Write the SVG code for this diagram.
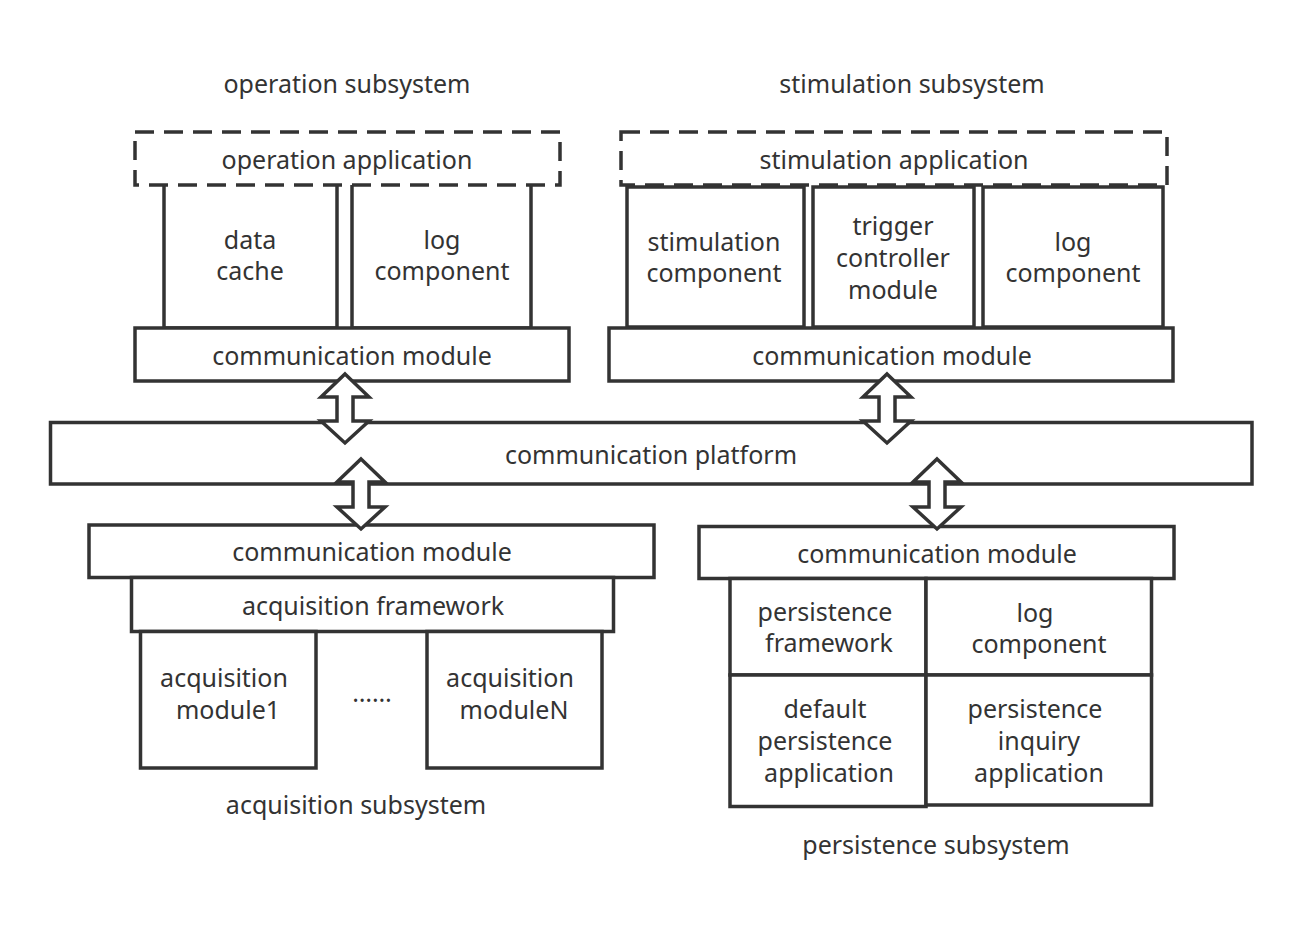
<svg xmlns="http://www.w3.org/2000/svg" width="1302" height="925" viewBox="0 0 1302 925">
<style>
.box{fill:#fff;stroke:#333;stroke-width:3.5}
.open{fill:none;stroke:#333;stroke-width:3.5}
.dash{fill:none;stroke:#333;stroke-width:3.5;stroke-dasharray:19 10}
.arr{fill:#fff;stroke:#333;stroke-width:3.5;stroke-linejoin:miter}
text{font-family:"Noto Sans","DejaVu Sans",sans-serif;font-size:25px;fill:#333;text-anchor:middle;dominant-baseline:central}
</style>
<rect x="0" y="0" width="1302" height="925" fill="#fff"/>

<g id="label-operation-subsystem"><text x="347" y="83">operation subsystem</text></g>
<g id="label-stimulation-subsystem"><text x="912" y="83">stimulation subsystem</text></g>

<g id="data-cache"><path class="open" d="M164,185 V328 H337 V185"/><text x="250" y="239">data</text><text x="250" y="270">cache</text></g>
<g id="op-log-component"><path class="open" d="M352,185 V328 H531 V185"/><text x="442" y="239">log</text><text x="442" y="270">component</text></g>
<g id="operation-application"><rect class="dash" x="135" y="132" width="425" height="53"/><text x="347" y="159">operation application</text></g>
<g id="op-comm-module"><rect class="box" x="135" y="328" width="434" height="53"/><text x="352" y="355">communication module</text></g>

<g id="stimulation-component"><rect class="box" x="627" y="187" width="177" height="140"/><text x="714" y="241">stimulation</text><text x="714" y="272">component</text></g>
<g id="trigger-controller-module"><rect class="box" x="813" y="187" width="161" height="140"/><text x="893" y="225">trigger</text><text x="893" y="257">controller</text><text x="893" y="289">module</text></g>
<g id="stim-log-component"><rect class="box" x="983" y="187" width="180" height="140"/><text x="1073" y="241">log</text><text x="1073" y="272">component</text></g>
<g id="stimulation-application"><rect class="dash" x="621" y="132" width="546" height="53"/><text x="894" y="159">stimulation application</text></g>
<g id="stim-comm-module"><rect class="box" x="609" y="328" width="564" height="53"/><text x="892" y="355">communication module</text></g>

<g id="communication-platform"><rect class="box" x="50.5" y="422.5" width="1201.5" height="61.5"/><text x="651" y="454">communication platform</text></g>

<g id="acq-comm-module"><rect class="box" x="89" y="525" width="565" height="52.5"/><text x="372" y="551">communication module</text></g>
<g id="acquisition-framework"><rect class="box" x="131.5" y="577.5" width="482" height="54"/><text x="373" y="605">acquisition framework</text></g>
<g id="acquisition-module1"><rect class="box" x="140.5" y="631.5" width="175.5" height="136.5"/><text x="224" y="677">acquisition</text><text x="228" y="709">module1</text></g>
<g id="ellipsis"><text x="372" y="692">……</text></g>
<g id="acquisition-moduleN"><rect class="box" x="427" y="631.5" width="175" height="136.5"/><text x="510" y="677">acquisition</text><text x="514" y="709">moduleN</text></g>
<g id="label-acquisition-subsystem"><text x="356" y="804">acquisition subsystem</text></g>

<g id="per-comm-module"><rect class="box" x="699" y="526.5" width="475" height="52"/><text x="937" y="553">communication module</text></g>
<g id="persistence-framework"><rect class="box" x="730" y="578.5" width="196" height="96.5"/><text x="825" y="611">persistence</text><text x="829" y="642">framework</text></g>
<g id="per-log-component"><rect class="box" x="926" y="578.5" width="225.5" height="96.5"/><text x="1035" y="612">log</text><text x="1039" y="643">component</text></g>
<g id="default-persistence-application"><rect class="box" x="730" y="675" width="196" height="131.5"/><text x="825" y="708">default</text><text x="825" y="740">persistence</text><text x="829" y="772">application</text></g>
<g id="persistence-inquiry-application"><rect class="box" x="926" y="675" width="225.5" height="130"/><text x="1035" y="708">persistence</text><text x="1039" y="740">inquiry</text><text x="1039" y="772">application</text></g>
<g id="label-persistence-subsystem"><text x="936" y="844">persistence subsystem</text></g>

<g id="connectors">
<polygon class="arr" points="345,374 369,397 353,397 353,421 369,421 345,443 321,421 337,421 337,397 321,397"/>
<polygon class="arr" points="361,459 385,482 369,482 369,507 385,507 361,529 337,507 353,507 353,482 337,482"/>
<polygon class="arr" points="887,374 911,397 895,397 895,421 911,421 887,443 863,421 879,421 879,397 863,397"/>
<polygon class="arr" points="937,459 961,482 945,482 945,507 961,507 937,529 913,507 929,507 929,482 913,482"/>
</g>
</svg>
